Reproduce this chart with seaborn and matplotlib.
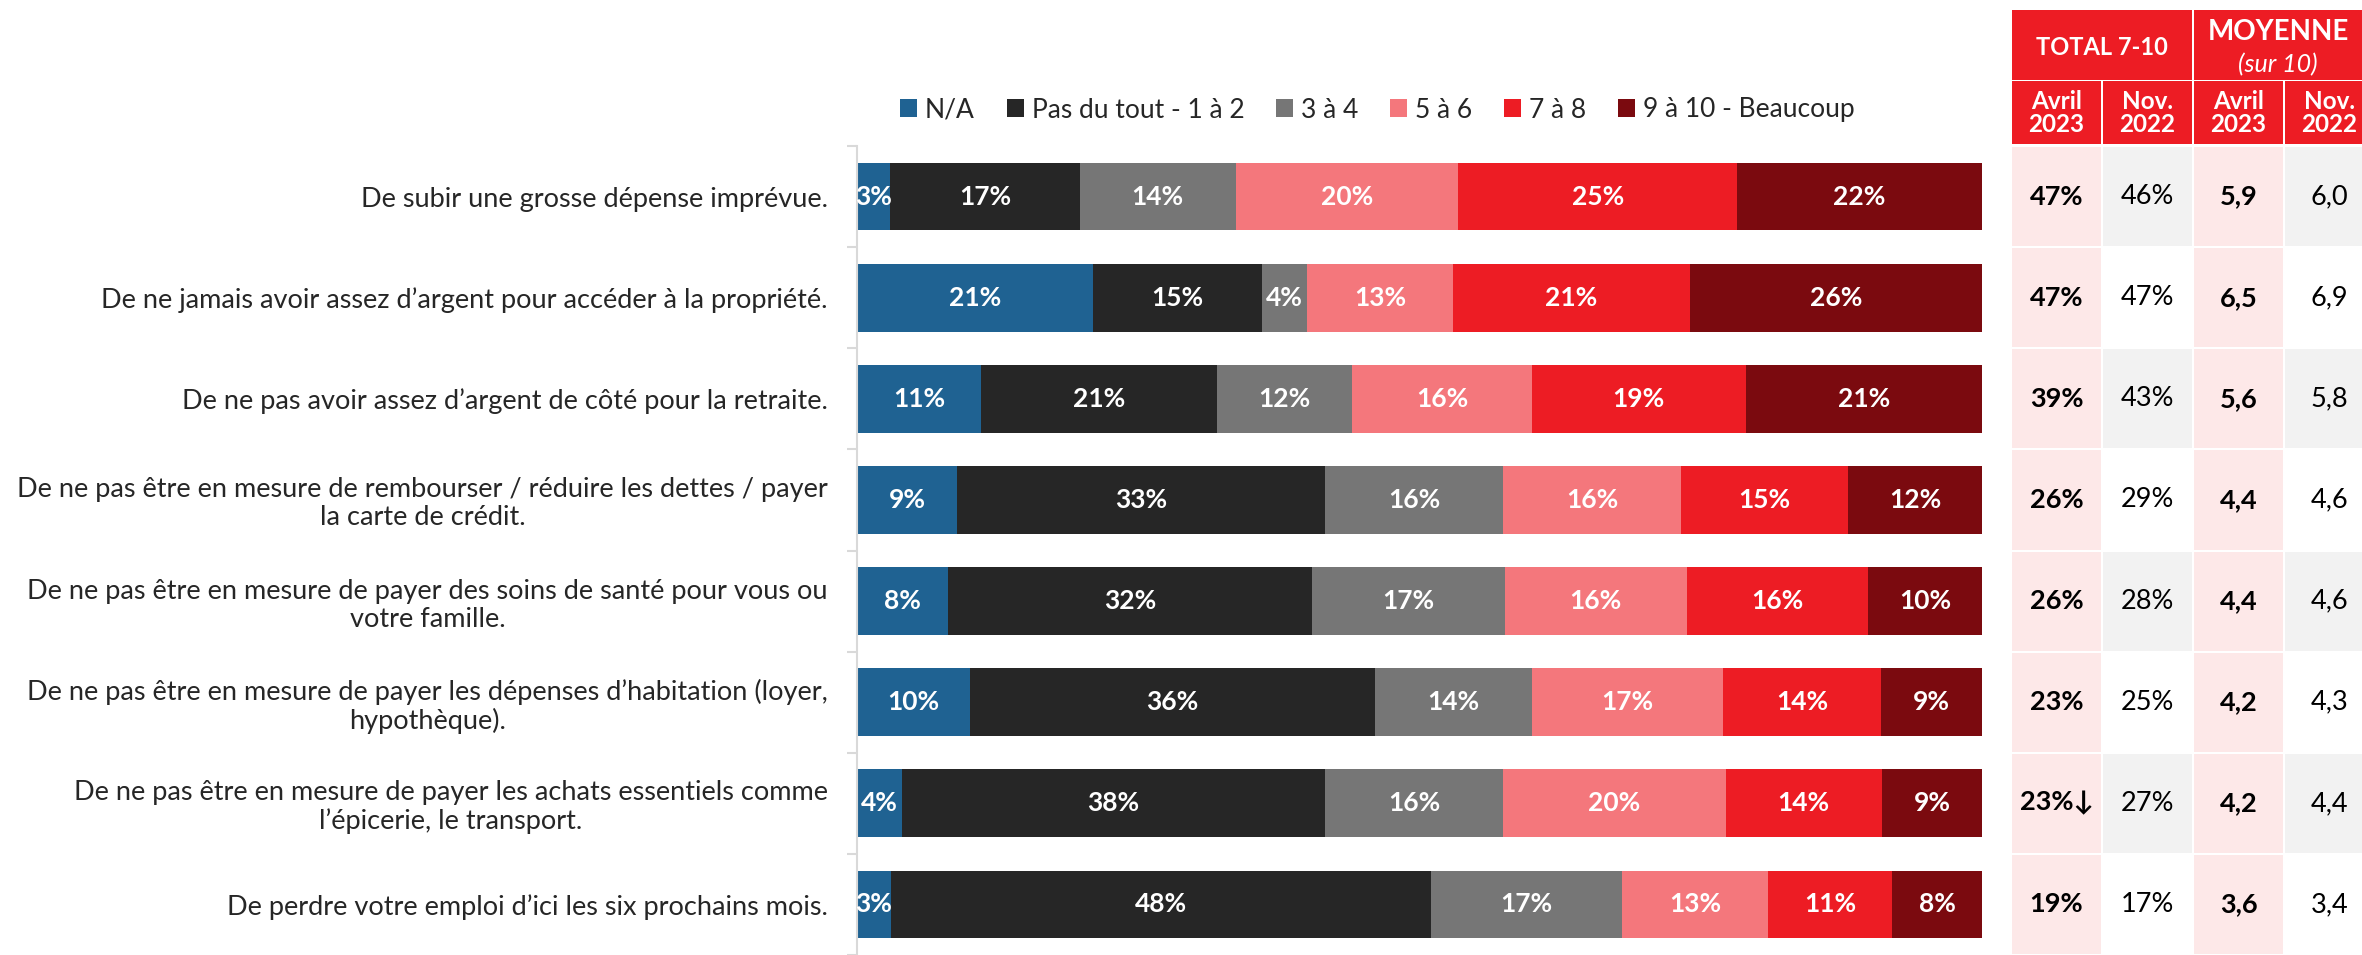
import numpy as np
import matplotlib
matplotlib.use("Agg")
import matplotlib.pyplot as plt
from matplotlib.patches import Patch, Rectangle
import seaborn as sns

questions = [
    "De subir une grosse dépense imprévue.",
    "De ne jamais avoir assez d’argent pour accéder à la propriété.",
    "De ne pas avoir assez d’argent de côté pour la retraite.",
    "De ne pas être en mesure de rembourser / réduire les dettes / payer\nla carte de crédit.",
    "De ne pas être en mesure de payer des soins de santé pour vous ou\nvotre famille.",
    "De ne pas être en mesure de payer les dépenses d’habitation (loyer,\nhypothèque).",
    "De ne pas être en mesure de payer les achats essentiels comme\nl’épicerie, le transport.",
    "De perdre votre emploi d’ici les six prochains mois.",
]
segments = ["N/A", "Pas du tout - 1 à 2", "3 à 4", "5 à 6", "7 à 8", "9 à 10 - Beaucoup"]
na = [3, 21, 11, 9, 8, 10, 4, 3]
pas_du_tout = [17, 15, 21, 33, 32, 36, 38, 48]
s3_4 = [14, 4, 12, 16, 17, 14, 16, 17]
s5_6 = [20, 13, 16, 16, 16, 17, 20, 13]
s7_8 = [25, 21, 19, 15, 16, 14, 14, 11]
s9_10 = [22, 26, 21, 12, 10, 9, 9, 8]

total_avril = ["47%", "47%", "39%", "26%", "26%", "23%", "23%↓", "19%"]
total_nov = ["46%", "47%", "43%", "29%", "28%", "25%", "27%", "17%"]
moy_avril = ["5,9", "6,5", "5,6", "4,4", "4,4", "4,2", "4,2", "3,6"]
moy_nov = ["6,0", "6,9", "5,8", "4,6", "4,6", "4,3", "4,4", "3,4"]

colors = ["#1F6292", "#262626", "#767676", "#F4777C", "#ED1C24", "#7B0A0F"]
RED = "#ED1C24"
PINK = "#FDE8E8"
GREY = "#F2F2F2"

sns.set_style("white")
plt.rcParams["font.family"] = ["Lato", "DejaVu Sans"]

vals = np.array([na, pas_du_tout, s3_4, s5_6, s7_8, s9_10], dtype=float).T
shares = vals / vals.sum(axis=1, keepdims=True) * 100
cum = shares.cumsum(axis=1)

fig = plt.figure(figsize=(23.62, 9.55), dpi=100)
ax = fig.add_axes([857 / 2362, 0, 1125 / 2362, 809 / 955])

# stacked bars: draw cumulative totals from the longest down
for k in reversed(range(len(segments))):
    sns.barplot(x=cum[:, k], y=questions, orient="h", color=colors[k],
                saturation=1, width=0.67, ax=ax, linewidth=0)

for i in range(len(questions)):
    for k in range(len(segments)):
        ax.text(cum[i, k] - shares[i, k] / 2, i, f"{int(vals[i, k])}%",
                ha="center", va="center", color="white",
                fontsize=19, fontweight="bold")

ax.set_xlim(0, 100)
ax.set_ylim(len(questions) - 0.5, -0.5)
ax.set_xticks([])
ax.set_xlabel("")
ax.set_ylabel("")
ax.set_yticks(range(len(questions)))
ax.set_yticklabels(questions, ha="right", multialignment="center",
                   fontsize=19.5, linespacing=1.15)
ax.set_yticks(np.arange(-0.5, len(questions), 1), minor=True)
ax.tick_params(axis="y", which="major", length=0, pad=21)
ax.tick_params(axis="y", which="minor", length=7, width=1.5, color="#D9D9D9", left=True)
for s in ["top", "right", "bottom"]:
    ax.spines[s].set_visible(False)
ax.spines["left"].set_color("#D9D9D9")
ax.spines["left"].set_linewidth(1.5)

handles = [Patch(facecolor=c, edgecolor="none") for c in colors]
fig.legend(handles, segments, loc="center left", ncol=6, frameon=False,
           bbox_to_anchor=(900 / 2362, 1 - 110 / 955), fontsize=19,
           handlelength=0.65, handleheight=0.65, handletextpad=0.3,
           columnspacing=1.2, borderpad=0, borderaxespad=0)

# side table, same row units as the bars
tab = fig.add_axes([2012 / 2362, 0, 350 / 2362, 945 / 955])
row_px = 809 / 8
top = -0.5 - 136 / row_px
tab.set_xlim(0, 350 / 91)
tab.set_ylim(7.5, top)
tab.axis("off")
cw, gy = 89 / 91, 2 / row_px

columns = [total_avril, total_nov, moy_avril, moy_nov]
for c, col in enumerate(columns):
    bold = c in (0, 2)
    for i, txt in enumerate(col):
        if bold:
            fc = PINK
        else:
            fc = GREY if i % 2 == 0 else "white"
        tab.add_patch(Rectangle((c, i - 0.5 + gy / 2), cw, 1 - gy, facecolor=fc, edgecolor="none"))
        tab.text(c + cw / 2, i, txt, ha="center", va="center", fontsize=19.5,
                 fontweight="bold" if bold else "normal", color="black")

h2_top = -0.5 - 65 / row_px
for c, lab in enumerate(["Avril\n2023", "Nov.\n2022", "Avril\n2023", "Nov.\n2022"]):
    tab.add_patch(Rectangle((c, h2_top), cw, 63 / row_px, facecolor=RED, edgecolor="none"))
    tab.text(c + cw / 2, h2_top + 32 / row_px, lab, ha="center", va="center",
             fontsize=17.5, fontweight="bold", color="white", linespacing=0.95)

h1_h = 70 / row_px
tab.add_patch(Rectangle((0, top), 1 + cw, h1_h, facecolor=RED, edgecolor="none"))
tab.add_patch(Rectangle((2, top), 2, h1_h, facecolor=RED, edgecolor="none"))
tab.text((1 + cw) / 2, top + 37 / row_px, "TOTAL 7-10", ha="center", va="center",
         fontsize=17, fontweight="bold", color="white")
tab.text(2 + (350 / 91 - 2) / 2, top + 22 / row_px, "MOYENNE", ha="center", va="center",
         fontsize=20, fontweight="bold", color="white")
tab.text(2 + (350 / 91 - 2) / 2, top + 55 / row_px, "(sur 10)", ha="center", va="center",
         fontsize=18, fontstyle="italic", color="white")

fig.savefig("out.png", dpi=100)
